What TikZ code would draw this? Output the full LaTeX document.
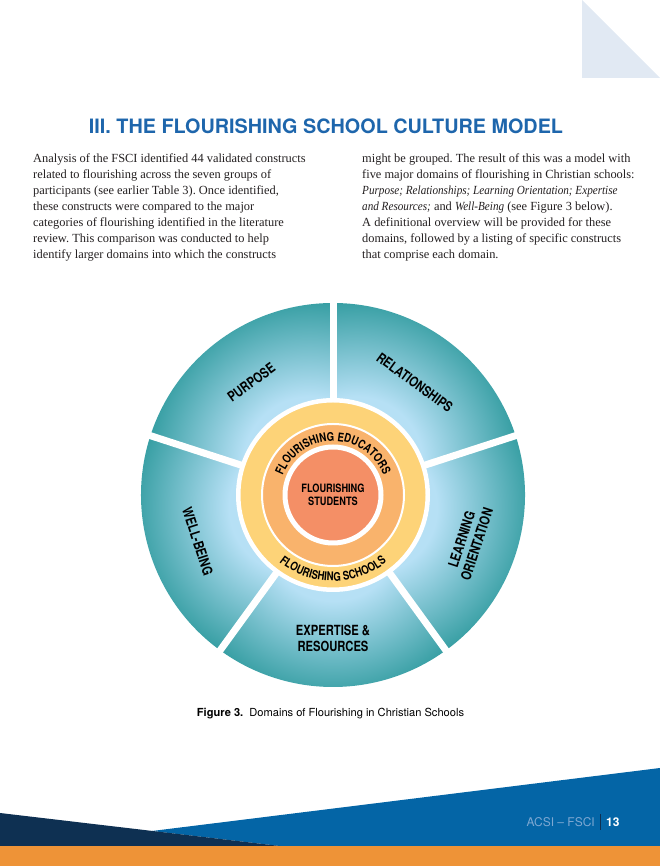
\documentclass[tikz,border=0pt]{standalone}
\usepackage{fontspec}
\setmainfont{Liberation Serif}[ItalicFeatures={FakeStretch=0.9}]
\setsansfont{TeX Gyre Heros}
\newfontfamily\condfont[FakeStretch=0.8]{TeX Gyre Heros}
\usepackage{tikz}
\usetikzlibrary{decorations.text, positioning}
\frenchspacing

\definecolor{titleblue}{HTML}{1E66AC}
\definecolor{tealout}{HTML}{329CA0}
\definecolor{skyin}{HTML}{B6E0F5}
\definecolor{ringyellow}{HTML}{FDD378}
\definecolor{ringorange}{HTML}{F9B36C}
\definecolor{coresalmon}{HTML}{F48F66}
\definecolor{bodytext}{HTML}{231F20}
\definecolor{footblue}{HTML}{0465A6}
\definecolor{footnavy}{HTML}{0E3052}
\definecolor{footorange}{HTML}{EE9337}
\definecolor{footlabel}{HTML}{7EA8D2}
\definecolor{cornerblue}{HTML}{E1E9F3}

\pgfdeclareradialshading{segment shade}{\pgfpoint{0bp}{0bp}}{color(0bp)=(skyin); color(10bp)=(skyin); color(25bp)=(tealout); color(50bp)=(tealout)}

\tikzstyle{wedgelabel} = [font=\condfont\bfseries\fontsize{14}{16}\selectfont, text=black, align=center, inner sep=0pt]
\tikzstyle{ringdisc} = [circle, inner sep=0pt, draw=white]
\tikzstyle{wedgegap} = [white, line width=7pt]
\tikzstyle{textcolumn} = [anchor=north west, align=left, inner sep=0pt, text=bodytext, font=\fontsize{12.4}{16}\selectfont]
\tikzstyle{ringtext} = [decorate, decoration={text along path, text align=center}]

\begin{document}
\begin{tikzpicture}[x=1pt, y=1pt]
\useasboundingbox (0,0) rectangle (660,866);

% Page corner
\fill[cornerblue] (582,866) -- (582,788) -- (660,788) -- cycle;

% Title and text
\node (title) [font=\sffamily\bfseries\fontsize{19.8}{20}\selectfont, text=titleblue] at (326,740) {III. THE FLOURISHING SCHOOL CULTURE MODEL};
\node (leftcol) [textcolumn] at (33,712) {Analysis of the FSCI identified 44 validated constructs\\
related to flourishing across the seven groups of\\
participants (see earlier Table 3). Once identified,\\
these constructs were compared to the major\\
categories of flourishing identified in the literature\\
review. This comparison was conducted to help\\
identify larger domains into which the constructs};
\node (rightcol) [textcolumn] at (362,712) {might be grouped. The result of this was a model with\\
five major domains of flourishing in Christian schools:\\
\textit{Purpose; Relationships; Learning Orientation; Expertise}\\
\textit{and Resources;} and \textit{Well-Being} (see Figure 3 below).\\
A definitional overview will be provided for these\\
domains, followed by a listing of specific constructs\\
that comprise each domain.};

% Domains wheel
\begin{scope}[shift={(333,371)}]
\foreach \a in {126,54,-18,-90,-162} {
  \begin{scope}
    \clip (0,0) -- (\a-36:192) arc[start angle=\a-36, end angle=\a+36, radius=192] -- cycle;
    \shade[shading=segment shade] (\a:40) circle (165);
  \end{scope}
}
\foreach \g in {90,18,-54,-126,162}
  \draw[wedgegap] (0,0) -- (\g:200);

% Rings
\node (schools) [ringdisc, minimum size=189.5pt, fill=ringyellow, line width=4.5pt] at (0,0) {};
\node (educators) [ringdisc, minimum size=142pt, fill=ringorange, line width=2pt] at (0,0) {};
\node (students) [ringdisc, minimum size=96pt, fill=coresalmon, line width=5pt] at (0,0) {};
\node (studentlabel) [wedgelabel, font=\condfont\bfseries\fontsize{11.5}{13}\selectfont] at (0,0) {FLOURISHING\\STUDENTS};
\path[ringtext, decoration={text={|\condfont\bfseries\fontsize{12}{12}\selectfont|FLOURISHING EDUCATORS}}]
  (175:54) arc[start angle=175, end angle=5, radius=54];
\path[ringtext, decoration={text={|\condfont\bfseries\fontsize{12}{12}\selectfont|FLOURISHING SCHOOLS}}]
  (185:86) arc[start angle=185, end angle=355, radius=86];

% Domain labels
\node (purpose) [wedgelabel, rotate=36] at (126:139) {PURPOSE};
\node (relationships) [wedgelabel, rotate=-36] at (54:139) {RELATIONSHIPS};
\node (learning) [wedgelabel, rotate=72] at (-19:144) {LEARNING\\ORIENTATION};
\node (expertise) [wedgelabel] at (-90:143) {EXPERTISE \&\\RESOURCES};
\node (wellbeing) [wedgelabel, rotate=-72] at (199:143) {WELL-BEING};
\end{scope}

% Caption
\node (caption) [font=\sffamily\fontsize{11.1}{12}\selectfont, text=black] at (330.5,152) {\textbf{Figure 3.}\ \ Domains of Flourishing in Christian Schools};

% Footer
\fill[footblue] (152,35) -- (660,98) -- (660,20) -- (280,20) -- cycle;
\fill[footnavy] (0,53) -- (280,20) -- (0,20) -- cycle;
\fill[footorange] (0,0) rectangle (660,20);
\node (footlabel) [anchor=east, font=\sffamily\fontsize{12}{12}\selectfont, text=footlabel, inner sep=0pt] at (595,44) {ACSI -- FSCI};
\node (pagenum) [anchor=west, font=\sffamily\bfseries\fontsize{12}{12}\selectfont, text=white, inner sep=0pt] at (606,44) {13};
\draw[footnavy, line width=0.8pt] ([xshift=5.5pt, yshift=3pt]footlabel.north east) -- ([xshift=5.5pt, yshift=-3pt]footlabel.south east);

\end{tikzpicture}
\end{document}
